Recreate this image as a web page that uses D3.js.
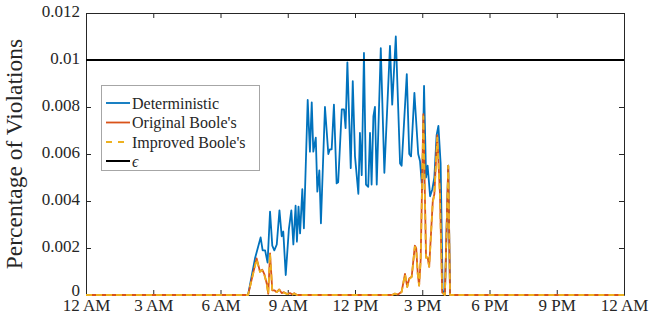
<!DOCTYPE html>
<html>
<head>
<meta charset="utf-8">
<script src="https://cdn.jsdelivr.net/npm/d3@7/dist/d3.min.js"></script>
<style>
  html, body { margin: 0; padding: 0; background: #fff; }
  svg { display: block; }
  svg text { font-family: "Liberation Serif", "Tinos", "Times New Roman", Times, "DejaVu Serif", serif !important; }
</style>
</head>
<body>
<svg id="chart" width="667" height="322"></svg>
<script>
// ---- data (time in hours since midnight, value = fraction of violations) ----
const detHours = [0, 7.23, 7.54, 7.79, 7.88, 7.99, 8.10, 8.21, 8.31, 8.40, 8.51, 8.63, 8.73, 8.80, 8.91, 9.05, 9.16, 9.25, 9.35, 9.41, 9.48, 9.55, 9.65, 9.72, 9.89, 9.99, 10.07, 10.14, 10.25, 10.32, 10.41, 10.48, 10.66, 10.81, 10.88, 10.96, 11.06, 11.18, 11.25, 11.41, 11.51, 11.58, 11.66, 11.81, 11.90, 12.00, 12.15, 12.22, 12.30, 12.40, 12.49, 12.59, 12.67, 12.74, 12.82, 12.89, 12.97, 13.15, 13.31, 13.56, 13.66, 13.82, 14.01, 14.08, 14.31, 14.42, 14.50, 14.65, 14.82, 14.90, 15.00, 15.08, 15.17, 15.24, 15.35, 15.45, 15.54, 15.64, 15.72, 15.82, 15.91, 16.01, 16.16, 16.24, 24];
const detValues = [0, 0, 0.00156, 0.00245, 0.0019, 0.0019, 0.00138, 0.00355, 0.0021, 0.0019, 0.00215, 0.0036, 0.0025, 0.0027, 0.00085, 0.0028, 0.0036, 0.00215, 0.0038, 0.00227, 0.00376, 0.00262, 0.0045, 0.00284, 0.0083, 0.0061, 0.0082, 0.0061, 0.0067, 0.0044, 0.0053, 0.00305, 0.008, 0.006, 0.0062, 0.0062, 0.0081, 0.00475, 0.0048, 0.0079, 0.0079, 0.0071, 0.0099, 0.0054, 0.0091, 0.0059, 0.0043, 0.0069, 0.0051, 0.0103, 0.0047, 0.0046, 0.0069, 0.0047, 0.0076, 0.008, 0.0047, 0.0105, 0.0052, 0.0106, 0.0081, 0.011, 0.0056, 0.0055, 0.0094, 0.006, 0.0059, 0.0086, 0.006, 0.0057, 0.0045, 0.0089, 0.005, 0.0055, 0.0042, 0.0045, 0.005, 0.0068, 0.0072, 0.0056, 0.0002, 0, 0.0055, 0, 0];

const origHours = [0, 7.23, 7.61, 7.76, 7.86, 7.95, 8.06, 8.13, 8.21, 8.31, 8.40, 8.51, 8.62, 8.73, 8.83, 8.97, 9.10, 9.21, 9.29, 9.41, 13.65, 13.78, 13.92, 14.08, 14.23, 14.33, 14.42, 14.53, 14.67, 14.73, 14.80, 14.86, 14.93, 15.05, 15.17, 15.24, 15.31, 15.47, 15.54, 15.67, 15.79, 15.89, 16.01, 16.16, 16.24, 24];
const origValues = [0, 0, 0.00156, 0.001, 0.00108, 0.0009, 0.0005, 0.00005, 0.00177, 0.0002, 0.0002, 0.00012, 0.00024, 0.00008, 0.00012, 0.00004, 0.00008, 0.00002, 0.00008, 0, 0, 0.00006, 0.00002, 0.00014, 0.0009, 0.00035, 0.0007, 0.00078, 0.0021, 0.002, 0.0009, 0.0004, 0.0015, 0.0077, 0.0016, 0.0016, 0.0012, 0.004, 0.0043, 0.0068, 0.0043, 0.0001, 0, 0.0055, 0, 0];

const imprHours = origHours;
const imprValues = [0, 0, 0.00152, 0.00098, 0.00106, 0.00088, 0.00048, 0.00005, 0.00175, 0.0002, 0.0002, 0.00012, 0.00022, 0.00008, 0.0001, 0.00004, 0.00008, 0.00002, 0.00006, 0, 0, 0.00006, 0.00002, 0.00012, 0.00088, 0.00034, 0.00068, 0.00076, 0.00205, 0.00198, 0.00088, 0.0004, 0.00148, 0.0076, 0.00158, 0.00158, 0.0012, 0.00395, 0.00425, 0.0067, 0.0042, 0.0001, 0, 0.0055, 0, 0];

const epsilon = 0.01;

const xTickHours = [0, 3, 6, 9, 12, 15, 18, 21, 24];
const xTickLabels = ["12 AM", "3 AM", "6 AM", "9 AM", "12 PM", "3 PM", "6 PM", "9 PM", "12 AM"];
const yTickValues = [0, 0.002, 0.004, 0.006, 0.008, 0.01, 0.012];
const yTickLabels = ["0", "0.002", "0.004", "0.006", "0.008", "0.01", "0.012"];

const seriesNames = ["Deterministic", "Original Boole's", "Improved Boole's", "\u03F5"];
const seriesColors = ["#0072BD", "#D95319", "#EDB120", "#000000"];

// ---- layout ----
const svg = d3.select("#chart");
const mLeft = 86, mRight = 624, mTop = 13, mBottom = 295;

const x = d3.scaleLinear().domain([0, 24]).range([mLeft, mRight]);
const y = d3.scaleLinear().domain([0, 0.012]).range([mBottom, mTop]);

const tickLen = 5;
const axisColor = "#262626";

const xAxis = d3.axisBottom(x).tickValues(xTickHours)
  .tickFormat((d, i) => xTickLabels[i]).tickSizeInner(-tickLen).tickSizeOuter(0).tickPadding(4);
const yAxis = d3.axisLeft(y).tickValues(yTickValues)
  .tickFormat((d, i) => yTickLabels[i]).tickSizeInner(-tickLen).tickSizeOuter(0).tickPadding(6);
const xTopAxis = d3.axisTop(x).tickValues(xTickHours).tickFormat("").tickSizeInner(-tickLen).tickSizeOuter(0);
const yRightAxis = d3.axisRight(y).tickValues(yTickValues).tickFormat("").tickSizeInner(-tickLen).tickSizeOuter(0);

function styleAxis(g) {
  g.attr("font-family", null);
  g.selectAll("path.domain").attr("stroke", axisColor).attr("stroke-width", 1);
  g.selectAll("line").attr("stroke", axisColor).attr("stroke-width", 1);
  g.selectAll("text").attr("font-size", 17).attr("fill", axisColor);
}

svg.append("g").attr("transform", `translate(0,${mBottom})`).call(xAxis).call(styleAxis);
const yG = svg.append("g").attr("transform", `translate(${mLeft},0)`).call(yAxis).call(styleAxis);
yG.selectAll(".tick text").attr("dy", d => d === 0 ? "0.02em" : "0.22em");
svg.append("g").attr("transform", `translate(0,${mTop})`).call(xTopAxis).call(styleAxis);
svg.append("g").attr("transform", `translate(${mRight},0)`).call(yRightAxis).call(styleAxis);

svg.append("text")
  .attr("transform", `translate(22,${(mTop + mBottom) / 2}) rotate(-90)`)
  .attr("text-anchor", "middle")
  .attr("font-size", 23.5)
  .attr("fill", axisColor)
  .text("Percentage of Violations");

svg.append("clipPath").attr("id", "clip").append("rect")
  .attr("x", mLeft).attr("y", mTop).attr("width", mRight - mLeft).attr("height", mBottom - mTop + 2);

const plot = svg.append("g").attr("clip-path", "url(#clip)");
const line = d3.line().x(d => x(d[0])).y(d => y(d[1]));

const det = detHours.map((h, i) => [h, detValues[i]]);
const orig = origHours.map((h, i) => [h, origValues[i]]);
const impr = imprHours.map((h, i) => [h, imprValues[i]]);

plot.append("path").datum(det).attr("d", line).attr("fill", "none")
  .attr("stroke", seriesColors[0]).attr("stroke-width", 1.8).attr("stroke-linejoin", "round");
plot.append("path").datum(orig).attr("d", line).attr("fill", "none")
  .attr("stroke", seriesColors[1]).attr("stroke-width", 1.8).attr("stroke-linejoin", "round");
plot.append("path").datum(impr).attr("d", line).attr("fill", "none")
  .attr("stroke", seriesColors[2]).attr("stroke-width", 1.8).attr("stroke-dasharray", "6,4").attr("stroke-linejoin", "round");
plot.append("path").datum([[0, epsilon], [24, epsilon]]).attr("d", line).attr("fill", "none")
  .attr("stroke", seriesColors[3]).attr("stroke-width", 2);

const lg = svg.append("g");
lg.append("rect").attr("x", 101.5).attr("y", 85.5).attr("width", 158).attr("height", 85)
  .attr("fill", "#fff").attr("stroke", "#a6a6a6").attr("stroke-width", 1);
const lgY = [103, 122.5, 142, 161];
seriesNames.forEach((name, i) => {
  lg.append("line").attr("x1", 106).attr("x2", 130).attr("y1", lgY[i]).attr("y2", lgY[i])
    .attr("stroke", seriesColors[i]).attr("stroke-width", i === 3 ? 2 : 1.8)
    .attr("stroke-dasharray", i === 2 ? "6,6" : null);
  lg.append("text").attr("x", 132).attr("y", lgY[i]).attr("dy", "0.35em")
    .attr("font-size", 16).attr("fill", axisColor)
    .attr("font-style", i === 3 ? "italic" : null)
    .text(name);
});
</script>
</body>
</html>
